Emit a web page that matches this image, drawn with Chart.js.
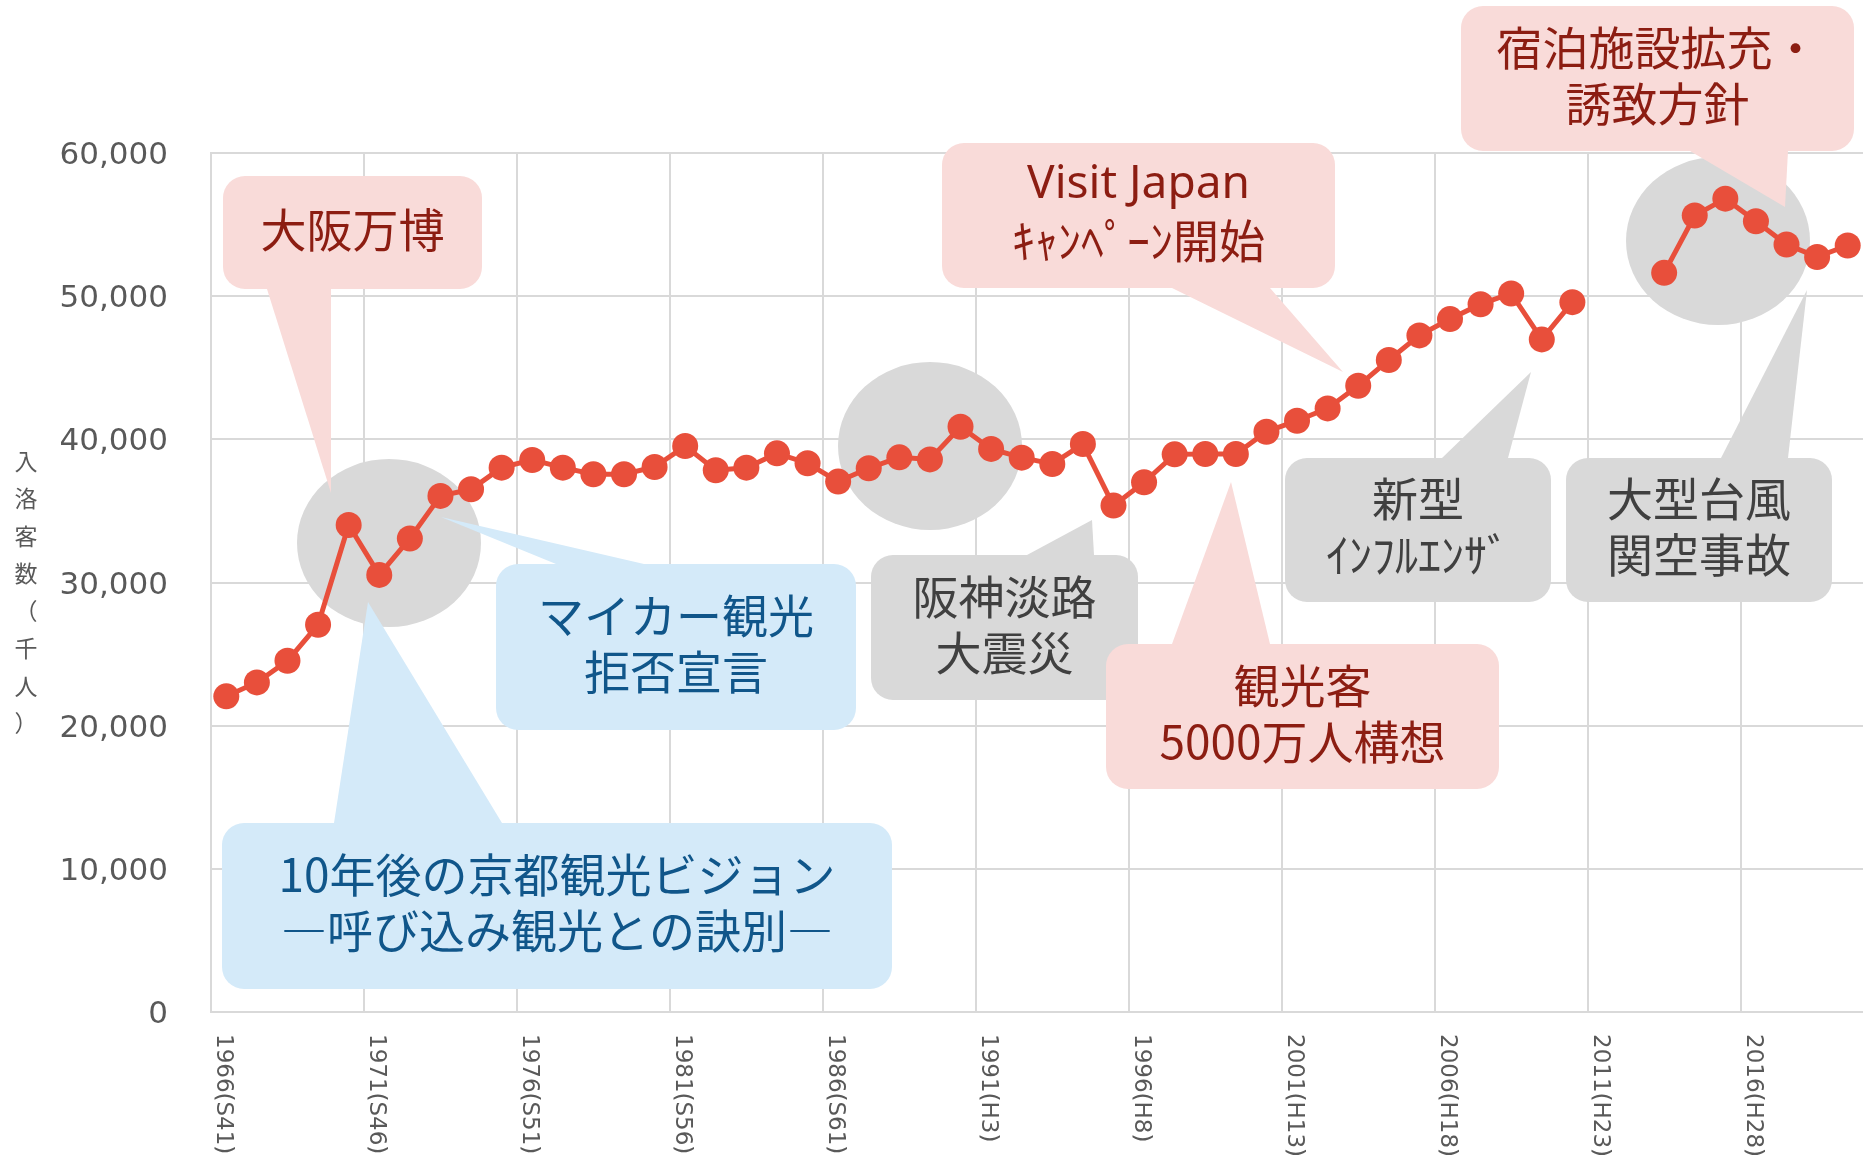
<!DOCTYPE html>
<html lang="ja">
<head>
<meta charset="utf-8">
<title>入洛客数の推移</title>
<script src="https://cdn.jsdelivr.net/npm/chart.js@4.4.1/dist/chart.umd.min.js"></script>
<style>
  html, body { margin: 0; padding: 0; background: #fff; }
  #wrap { width: 1863px; height: 1157px; }
</style>
</head>
<body>
<div id="wrap"><canvas id="myChart" width="1863" height="1157"></canvas></div>
<script>
// 年（カテゴリ）
let years = [
  '1966', '1967', '1968', '1969', '1970', '1971', '1972', '1973', '1974', '1975',
  '1976', '1977', '1978', '1979', '1980', '1981', '1982', '1983', '1984', '1985',
  '1986', '1987', '1988', '1989', '1990', '1991', '1992', '1993', '1994', '1995',
  '1996', '1997', '1998', '1999', '2000', '2001', '2002', '2003', '2004', '2005',
  '2006', '2007', '2008', '2009', '2010', '2011', '2012', '2013', '2014', '2015',
  '2016', '2017', '2018', '2019'
];

// 入洛客数（千人） 2011, 2012 は空白
let visitors = [
  22050, 23020, 24530, 27050, 34020, 30530, 33070, 36050, 36510, 38020,
  38560, 38020, 37560, 37560, 38070, 39530, 37840, 38020, 39020, 38330,
  37050, 37980, 38740, 38600, 40880, 39330, 38720, 38280, 39670, 35370,
  37000, 38950, 38980, 38980, 40530, 41300, 42160, 43740, 45540, 47260,
  48400, 49440, 50190, 46980, 49580, null, null, 51630, 55630, 56810,
  55230, 53610, 52740, 53540
];

let tickLabels = [
  '1966(S41)', '1971(S46)', '1976(S51)', '1981(S56)', '1986(S61)', '1991(H3)',
  '1996(H8)', '2001(H13)', '2006(H18)', '2011(H23)', '2016(H28)'
];

let yTitle = '入洛客数（千人）';

let noteTexts = [
  ['大阪万博'],
  ['マイカー観光', '拒否宣言'],
  ['10年後の京都観光ビジョン', '―呼び込み観光との訣別―'],
  ['阪神淡路', '大震災'],
  ['観光客', '5000万人構想'],
  ['Visit Japan', 'ｷｬﾝﾍﾟｰﾝ開始'],
  ['新型', 'ｲﾝﾌﾙｴﾝｻﾞ'],
  ['大型台風', '関空事故'],
  ['宿泊施設拡充・', '誘致方針']
];

// layout of the callouts (px)
let noteBoxes = [
  { x: 223, y: 176, w: 259, h: 113, tone: 'pink', ptr: [[267, 289], [331, 289], [331, 493]] },
  { x: 496, y: 564, w: 360, h: 166, tone: 'blue', ptr: [[556, 564], [644, 564], [441, 517]] },
  { x: 222, y: 823, w: 670, h: 166, tone: 'blue', ptr: [[334, 823], [502, 823], [368, 602]] },
  { x: 871, y: 555, w: 267, h: 145, tone: 'gray', ptr: [[1027, 555], [1094, 555], [1092, 520]] },
  { x: 1106, y: 644, w: 393, h: 145, tone: 'pink', ptr: [[1172, 644], [1270, 644], [1231, 482]] },
  { x: 942, y: 143, w: 393, h: 145, tone: 'pink', ptr: [[1172, 288], [1270, 288], [1343, 372]] },
  { x: 1285, y: 458, w: 266, h: 144, tone: 'gray', ptr: [[1442, 458], [1508, 458], [1531, 372]] },
  { x: 1566, y: 458, w: 266, h: 144, tone: 'gray', ptr: [[1721, 458], [1788, 458], [1807, 290]] },
  { x: 1461, y: 6, w: 393, h: 145, tone: 'pink', ptr: [[1690, 151], [1788, 151], [1785, 207]] }
];

let circles = [
  { x: 389, y: 543, rx: 92, ry: 84 },
  { x: 930, y: 446, rx: 92, ry: 84 },
  { x: 1718, y: 241, rx: 92, ry: 84 }
];

const tones = {
  pink: { fill: '#f9dbd9', text: '#8c1d12' },
  blue: { fill: '#d4eaf9', text: '#10568a' },
  gray: { fill: '#d9d9d9', text: '#404040' }
};

function roundBox(ctx, x, y, w, h, r) {
  ctx.beginPath();
  ctx.moveTo(x + r, y);
  ctx.arcTo(x + w, y, x + w, y + h, r);
  ctx.arcTo(x + w, y + h, x, y + h, r);
  ctx.arcTo(x, y + h, x, y, r);
  ctx.arcTo(x, y, x + w, y, r);
  ctx.closePath();
}

const decorations = {
  id: 'decorations',
  beforeDatasetsDraw(chart) {
    const ctx = chart.ctx;
    ctx.save();
    ctx.fillStyle = '#d9d9d9';
    circles.forEach(c => {
      ctx.beginPath();
      ctx.ellipse(c.x, c.y, c.rx, c.ry, 0, 0, Math.PI * 2);
      ctx.fill();
    });

    noteBoxes.forEach((b, i) => {
      const tone = tones[b.tone];
      ctx.fillStyle = tone.fill;
      ctx.beginPath();
      ctx.moveTo(b.ptr[0][0], b.ptr[0][1]);
      ctx.lineTo(b.ptr[1][0], b.ptr[1][1]);
      ctx.lineTo(b.ptr[2][0], b.ptr[2][1]);
      ctx.closePath();
      ctx.fill();
      roundBox(ctx, b.x, b.y, b.w, b.h, 22);
      ctx.fill();

      const lines = noteTexts[i];
      const lh = 56;
      const cx = b.x + b.w / 2;
      const cy = b.y + b.h / 2 - 3;
      ctx.fillStyle = tone.text;
      ctx.textAlign = 'center';
      ctx.textBaseline = 'middle';
      lines.forEach((t, k) => {
        const ty = cy + (k - (lines.length - 1) / 2) * lh;
        if (/^[A-Za-z ]+$/.test(t)) {
          ctx.font = '46px "Noto Sans", "Noto Sans CJK JP", sans-serif';
        } else {
          ctx.font = '46px "Noto Sans CJK JP", sans-serif';
        }
        ctx.fillText(t, cx, ty);
      });
    });
    ctx.restore();
  },
  afterDraw(chart) {
    const ctx = chart.ctx;
    const xs = chart.scales.x;
    ctx.save();
    // x tick labels, reading top to bottom
    ctx.fillStyle = '#595959';
    ctx.font = '23px "DejaVu Sans", sans-serif';
    ctx.textAlign = 'left';
    ctx.textBaseline = 'middle';
    tickLabels.forEach(lbl => {
      const idx = years.indexOf(lbl.slice(0, 4));
      const px = xs.getPixelForValue(idx) - 3;
      ctx.save();
      ctx.translate(px, chart.chartArea.bottom + 22);
      ctx.rotate(Math.PI / 2);
      ctx.fillText(lbl, 0, 0);
      ctx.restore();
    });

    // y axis title, stacked characters
    ctx.font = '23px "Noto Sans CJK JP", sans-serif';
    ctx.textAlign = 'center';
    Array.from(yTitle).forEach((ch, k) => {
      ctx.fillText(ch, 26, 461 + k * 37.5);
    });
    ctx.restore();
  }
};

let ctx = document.getElementById('myChart').getContext('2d');
new Chart(ctx, {
  type: 'line',
  data: {
    labels: years,
    datasets: [{
      label: '入洛客数',
      data: visitors,
      borderColor: '#e84f3b',
      backgroundColor: '#e84f3b',
      borderWidth: 5,
      pointRadius: 13,
      pointBorderWidth: 0,
      pointBackgroundColor: '#e84f3b',
      spanGaps: false,
      tension: 0
    }]
  },
  options: {
    responsive: false,
    animation: false,
    devicePixelRatio: 1,
    layout: { autoPadding: false, padding: { top: 153, left: 0, right: 0, bottom: 0 } },
    plugins: {
      legend: { display: false },
      tooltip: { enabled: false }
    },
    scales: {
      x: {
        type: 'category',
        offset: true,
        ticks: { display: false, autoSkip: false },
        grid: {
          offset: true,
          drawTicks: false,
          lineWidth: 2,
          color: c => (c.index % 5 === 0 ? '#d9d9d9' : 'rgba(0,0,0,0)')
        },
        border: { color: '#d9d9d9', width: 2 },
        afterFit: s => { s.height = 145; }
      },
      y: {
        min: 0,
        max: 60000,
        ticks: {
          stepSize: 10000,
          padding: 43,
          labelOffset: 3,
          color: '#595959',
          font: { family: 'DejaVu Sans', size: 31 },
          callback: v => v.toLocaleString('en-US')
        },
        grid: { color: '#d9d9d9', lineWidth: 2, drawTicks: false },
        border: { color: '#d9d9d9', width: 2 },
        afterFit: s => { s.width = 211; }
      }
    }
  },
  plugins: [decorations]
});
</script>
</body>
</html>
